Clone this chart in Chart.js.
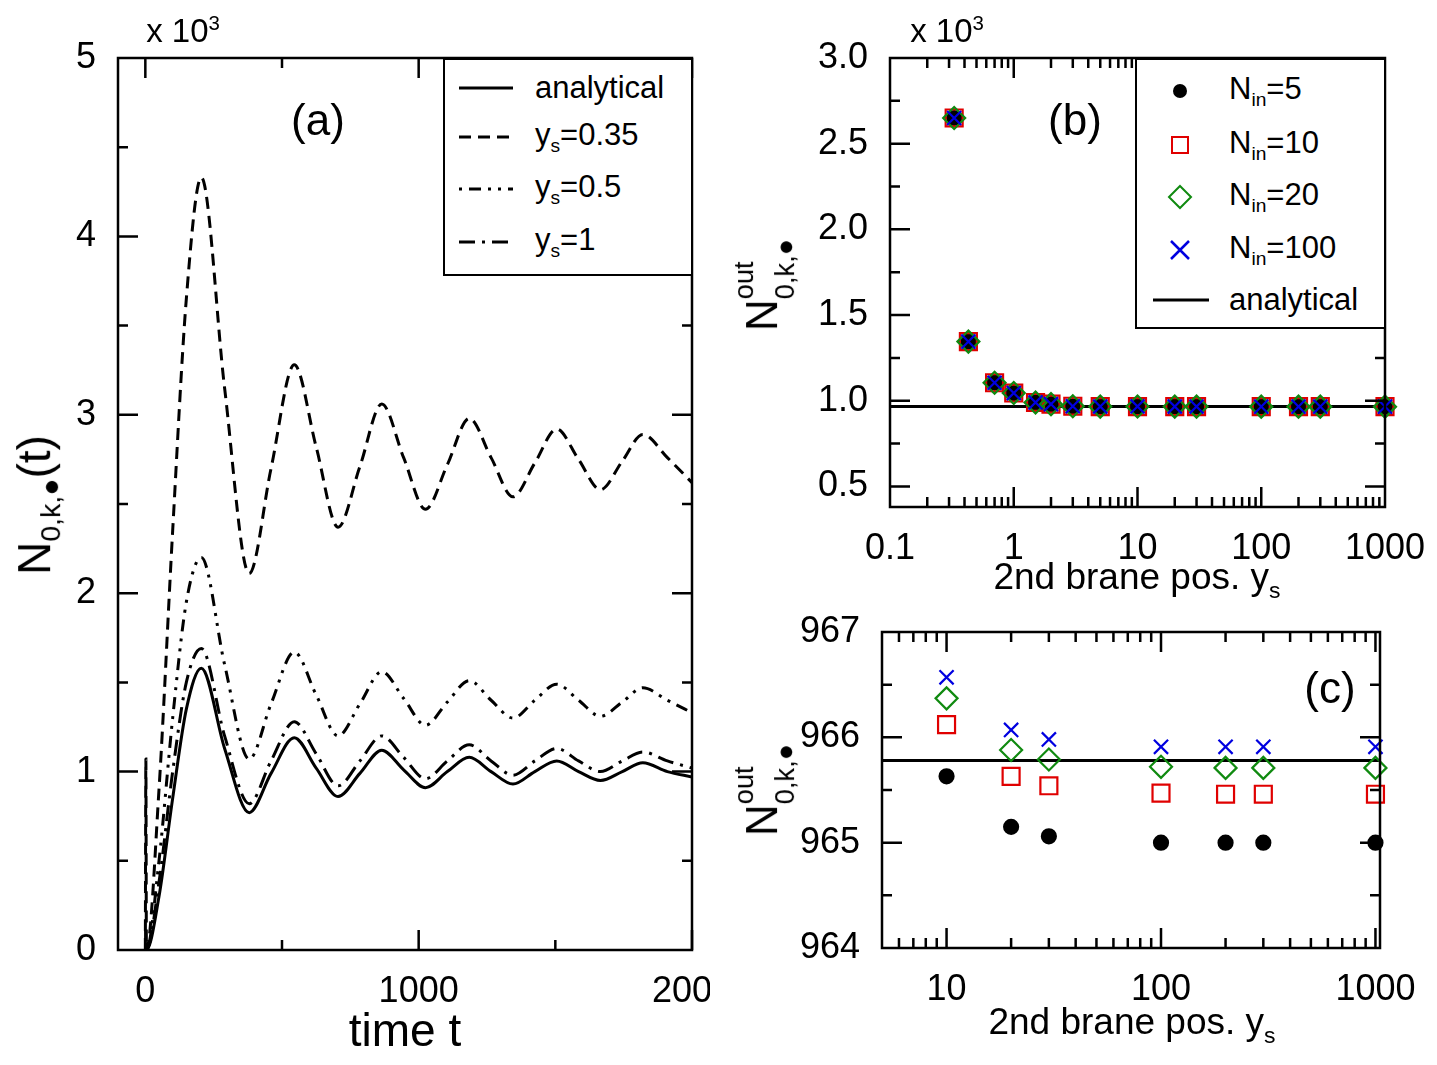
<!DOCTYPE html>
<html>
<head>
<meta charset="utf-8">
<script src="https://cdn.jsdelivr.net/npm/chart.js@4"></script>
<style>
  body { margin: 0; background: #fff; font-family: 'Liberation Sans', Arial, sans-serif; }
  #page { position: relative; width: 1437px; height: 1065px; overflow: hidden; }
  .box { position: absolute; }
  .t { position: absolute; white-space: nowrap; color: #000; transform: translate(-50%, -50%); line-height: 1; }
  .rot { transform: translate(-50%, -50%) rotate(-90deg); }
  sub, sup { font-size: 62%; }
  .ss { display: inline-flex; flex-direction: column; vertical-align: middle; font-size: 62%; line-height: 1.5; }
  .legend { position: absolute; background: #fff; border: 2px solid #000; box-sizing: border-box; }
  .row { position: absolute; left: 0; display: flex; align-items: center; font-size: 31px; }
</style>
</head>
<body>
<div id="page">
  <div class="box" style="left:0;top:0;width:710px;height:1065px"><canvas id="cA"></canvas></div>
  <div class="box" style="left:720px;top:0;width:717px;height:610px"><canvas id="cB"></canvas></div>
  <div class="box" style="left:720px;top:610px;width:717px;height:455px"><canvas id="cC"></canvas></div>

  <div class="t" style="left:183px;top:30px;font-size:33px">x 10<sup>3</sup></div>
  <div class="t" style="left:947px;top:30px;font-size:33px">x 10<sup>3</sup></div>
  <div class="t" style="left:318px;top:120px;font-size:44px">(a)</div>
  <div class="t" style="left:1075px;top:120px;font-size:44px">(b)</div>
  <div class="t" style="left:1330px;top:688px;font-size:44px">(c)</div>
  <div class="t" style="left:405px;top:1030px;font-size:46px">time t</div>
  <div class="t" style="left:1137px;top:580px;font-size:37px">2nd brane pos. y<sub>s</sub></div>
  <div class="t" style="left:1132px;top:1025px;font-size:37px">2nd brane pos. y<sub>s</sub></div>
  <div class="t rot" style="left:38px;top:505px;font-size:46px">N<sub>0,k,●</sub>(t)</div>
  <div class="t rot" style="left:765px;top:285px;font-size:44px">N<span class="ss"><span>out</span><span>0,k,●</span></span></div>
  <div class="t rot" style="left:765px;top:790px;font-size:44px">N<span class="ss"><span>out</span><span>0,k,●</span></span></div>

  <div class="legend" style="left:443px;top:58px;width:250px;height:218px">
    <div class="row" style="top:10px"><svg width="90" height="34"><line x1="14" y1="17" x2="68" y2="17" stroke="#000" stroke-width="3"/></svg><span>analytical</span></div>
    <div class="row" style="top:57px"><svg width="90" height="34"><line x1="14" y1="17" x2="68" y2="17" stroke="#000" stroke-width="3" stroke-dasharray="12 7"/></svg><span>y<sub>s</sub>=0.35</span></div>
    <div class="row" style="top:109px"><svg width="90" height="34"><line x1="14" y1="17" x2="68" y2="17" stroke="#000" stroke-width="3" stroke-dasharray="3 7 12 7 3 7"/></svg><span>y<sub>s</sub>=0.5</span></div>
    <div class="row" style="top:162px"><svg width="90" height="34"><line x1="14" y1="17" x2="68" y2="17" stroke="#000" stroke-width="3" stroke-dasharray="16 7 3 7"/></svg><span>y<sub>s</sub>=1</span></div>
  </div>

  <div class="legend" style="left:1135px;top:58px;width:251px;height:271px">
    <div class="row" style="top:11px"><svg width="92" height="34"><circle cx="43" cy="17" r="7" fill="#000"/></svg><span>N<sub>in</sub>=5</span></div>
    <div class="row" style="top:65px"><svg width="92" height="34"><rect x="35" y="9" width="16" height="16" fill="none" stroke="#e00000" stroke-width="2"/></svg><span>N<sub>in</sub>=10</span></div>
    <div class="row" style="top:117px"><svg width="92" height="34"><path d="M43 6 L54 17 L43 28 L32 17 Z" fill="none" stroke="#108a10" stroke-width="2"/></svg><span>N<sub>in</sub>=20</span></div>
    <div class="row" style="top:170px"><svg width="92" height="34"><path d="M34 8 L52 26 M52 8 L34 26" stroke="#0000e0" stroke-width="2.5"/></svg><span>N<sub>in</sub>=100</span></div>
    <div class="row" style="top:222px"><svg width="92" height="34"><line x1="16" y1="17" x2="72" y2="17" stroke="#000" stroke-width="3"/></svg><span>analytical</span></div>
  </div>
</div>

<script>
// ---- panel (a): time evolution ----
const timeT = [0, 2, 4, 50, 100, 150, 205, 290, 380, 460, 545, 625, 705, 785, 865, 945, 1025, 1105, 1185, 1265, 1345, 1425, 1505, 1585, 1665, 1745, 1820, 1910, 2000];
const nAnalytical = [0, 0, 0, 300, 850, 1350, 1580, 1130, 770, 990, 1190, 1020, 860, 990, 1120, 1010, 910, 1000, 1080, 1000, 930, 1000, 1060, 1000, 950, 1000, 1050, 1000, 970];
const nYs035 = [0, 1070, 0, 900, 2350, 3650, 4330, 3150, 2110, 2700, 3280, 2820, 2370, 2710, 3060, 2760, 2470, 2720, 2980, 2760, 2540, 2730, 2920, 2750, 2580, 2740, 2890, 2760, 2620];
const nYs05 = [0, 0, 0, 500, 1300, 1950, 2200, 1600, 1070, 1380, 1670, 1430, 1200, 1380, 1560, 1410, 1260, 1390, 1510, 1400, 1300, 1400, 1490, 1400, 1310, 1390, 1470, 1400, 1330];
const nYs1 = [0, 0, 0, 380, 1000, 1500, 1690, 1200, 820, 1060, 1280, 1100, 920, 1060, 1200, 1080, 960, 1060, 1150, 1060, 980, 1060, 1130, 1060, 1000, 1060, 1110, 1060, 1020];

// ---- panel (b): N_out vs y_s (units of 10^3) ----
const ysB = [0.33, 0.43, 0.7, 1, 1.5, 2, 3, 5, 10, 20, 30, 100, 200, 300, 1000];
const outB5 = [2.65, 1.345, 1.105, 1.045, 0.99, 0.98, 0.968, 0.966, 0.9656, 0.9652, 0.9651, 0.965, 0.965, 0.965, 0.965];
const outB10 = [2.65, 1.345, 1.105, 1.045, 0.99, 0.98, 0.968, 0.966, 0.9661, 0.9656, 0.9655, 0.9655, 0.9655, 0.9655, 0.9655];
const outB20 = [2.65, 1.345, 1.105, 1.045, 0.99, 0.98, 0.968, 0.966, 0.9664, 0.9659, 0.9658, 0.9657, 0.9657, 0.9657, 0.9657];
const outB100 = [2.65, 1.345, 1.105, 1.045, 0.99, 0.98, 0.968, 0.966, 0.9666, 0.9661, 0.966, 0.9659, 0.9659, 0.9659, 0.9659];
const analyticB = 0.96578;

// ---- panel (c): zoom on large y_s ----
const ysC = [10, 20, 30, 100, 200, 300, 1000];
const outC5 = [965.63, 965.15, 965.06, 965.0, 965.0, 965.0, 965.0];
const outC10 = [966.12, 965.63, 965.54, 965.47, 965.46, 965.46, 965.46];
const outC20 = [966.37, 965.88, 965.79, 965.72, 965.71, 965.71, 965.71];
const outC100 = [966.57, 966.07, 965.98, 965.91, 965.91, 965.91, 965.91];
const analyticC = 965.78;

const FONT = "'Liberation Sans', Arial, sans-serif";
const RED = '#e00000', GREEN = '#108a10', BLUE = '#0000e0';

function pts(xs, ys) { return xs.map((x, i) => ({ x: x, y: ys[i] })); }

// draws the box and inward ticks on all four sides
function framePlugin(spec) {
    return {
        id: 'frame',
        afterDraw(chart) {
            const ctx = chart.ctx, a = chart.chartArea, sx = chart.scales.x, sy = chart.scales.y;
            ctx.save();
            ctx.strokeStyle = '#000';
            ctx.lineWidth = 2.5;
            ctx.beginPath();
            const tick = (vals, len, horiz) => vals.forEach(v => {
                if (horiz) {
                    const p = sx.getPixelForValue(v);
                    ctx.moveTo(p, a.bottom); ctx.lineTo(p, a.bottom - len);
                    ctx.moveTo(p, a.top); ctx.lineTo(p, a.top + len);
                } else {
                    const p = sy.getPixelForValue(v);
                    ctx.moveTo(a.left, p); ctx.lineTo(a.left + len, p);
                    ctx.moveTo(a.right, p); ctx.lineTo(a.right - len, p);
                }
            });
            tick(spec.xMajor, 20, true);
            tick(spec.xMinor, 10, true);
            tick(spec.yMajor, 20, false);
            tick(spec.yMinor, 10, false);
            ctx.stroke();
            ctx.strokeRect(a.left, a.top, a.right - a.left, a.bottom - a.top);
            ctx.restore();
        }
    };
}

function axis(type, min, max, ticksAt, fmt, fit, isX) {
    return {
        type: type, min: min, max: max,
        grid: { display: false }, border: { display: false },
        afterBuildTicks: s => { s.ticks = ticksAt.map(v => ({ value: v })); },
        afterFit: s => {
            if (isX) { s.height = fit; s.paddingLeft = 0; s.paddingRight = 0; }
            else { s.width = fit; s.paddingTop = 0; s.paddingBottom = 0; }
        },
        ticks: { color: '#000', font: { family: FONT, size: 36 }, padding: isX ? 12 : 14, callback: fmt, maxRotation: 0, autoSkip: false }
    };
}

function logMinors(lo, hi) {
    const out = [];
    for (let d = lo; d < hi; d *= 10) for (let k = 2; k <= 9; k++) out.push(d * k);
    return out;
}

const baseOpts = { responsive: true, maintainAspectRatio: false, animation: false, plugins: { legend: { display: false }, tooltip: { enabled: false } } };

function lineSet(data, dash) {
    return { data: data, borderColor: '#000', borderWidth: 3, borderDash: dash, pointRadius: 0, cubicInterpolationMode: 'monotone', fill: false };
}
function markSet(data, style, color, r, filled) {
    return { data: data, showLine: false, clip: false, pointStyle: style, pointRadius: r, pointBorderColor: color, pointBackgroundColor: filled ? color : 'transparent', pointBorderWidth: 2.2 };
}

new Chart(document.getElementById('cA'), {
    type: 'line',
    data: {
        datasets: [
            lineSet(pts(timeT, nAnalytical), []),
            lineSet(pts(timeT, nYs035), [12, 7]),
            lineSet(pts(timeT, nYs05), [3, 7, 12, 7, 3, 7]),
            lineSet(pts(timeT, nYs1), [16, 7, 3, 7])
        ]
    },
    options: Object.assign({}, baseOpts, {
        layout: { padding: { top: 58, right: 18, left: 0, bottom: 0 } },
        scales: {
            x: axis('linear', -100, 2000, [0, 1000, 2000], v => String(v), 115, true),
            y: axis('linear', 0, 5000, [0, 1000, 2000, 3000, 4000, 5000], v => String(v / 1000), 118, false)
        }
    }),
    plugins: [framePlugin({ xMajor: [0, 1000, 2000], xMinor: [500, 1500], yMajor: [1000, 2000, 3000, 4000], yMinor: [500, 1500, 2500, 3500, 4500] })]
});

// first dataset is drawn on top
new Chart(document.getElementById('cB'), {
    type: 'scatter',
    data: {
        datasets: [
            markSet(pts(ysB, outB100), 'crossRot', BLUE, 10, false),
            markSet(pts(ysB, outB20), 'rectRot', GREEN, 11, false),
            markSet(pts(ysB, outB10), 'rect', RED, 12, false),
            markSet(pts(ysB, outB5), 'circle', '#000', 7, true),
            Object.assign(lineSet([{ x: 0.1, y: analyticB }, { x: 1000, y: analyticB }], []), { showLine: true })
        ]
    },
    options: Object.assign({}, baseOpts, {
        layout: { padding: { top: 58, right: 52, left: 0, bottom: 0 } },
        scales: {
            x: axis('logarithmic', 0.1, 1000, [0.1, 1, 10, 100, 1000], v => String(v), 103, true),
            y: axis('linear', 0.38, 3.0, [0.5, 1.0, 1.5, 2.0, 2.5, 3.0], v => v.toFixed(1), 170, false)
        }
    }),
    plugins: [framePlugin({ xMajor: [1, 10, 100], xMinor: logMinors(0.1, 1000), yMajor: [0.5, 1.0, 1.5, 2.0, 2.5], yMinor: [0.75, 1.25, 1.75, 2.25, 2.75] })]
});

new Chart(document.getElementById('cC'), {
    type: 'scatter',
    data: {
        datasets: [
            markSet(pts(ysC, outC100), 'crossRot', BLUE, 10, false),
            markSet(pts(ysC, outC20), 'rectRot', GREEN, 11, false),
            markSet(pts(ysC, outC10), 'rect', RED, 12, false),
            markSet(pts(ysC, outC5), 'circle', '#000', 7, true),
            Object.assign(lineSet([{ x: 5, y: analyticC }, { x: 1050, y: analyticC }], []), { showLine: true })
        ]
    },
    options: Object.assign({}, baseOpts, {
        layout: { padding: { top: 22, right: 57, left: 0, bottom: 0 } },
        scales: {
            x: axis('logarithmic', 5, 1050, [10, 100, 1000], v => String(v), 117, true),
            y: axis('linear', 964, 967, [964, 965, 966, 967], v => String(v), 162, false)
        }
    }),
    plugins: [framePlugin({ xMajor: [10, 100, 1000], xMinor: [6, 7, 8, 9, 20, 30, 40, 50, 60, 70, 80, 90, 200, 300, 400, 500, 600, 700, 800, 900], yMajor: [965, 966], yMinor: [964.5, 965.5, 966.5] })]
});
</script>
</body>
</html>
